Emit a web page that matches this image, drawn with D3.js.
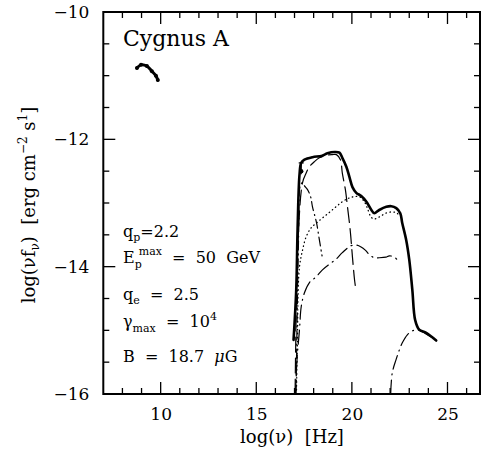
<!DOCTYPE html>
<html>
<head>
<meta charset="utf-8">
<script src="https://cdn.jsdelivr.net/npm/d3@7"></script>
<style>
  body { margin: 0; background: #fff; }
  text { font-family: "DejaVu Serif", "Liberation Serif", serif; fill: #000; white-space: pre; }
</style>
</head>
<body>
<svg id="chart" width="481" height="453"></svg>
<script>
// Axis ticks
const xTicksMajor = [10, 15, 20, 25];
const xTicksMinor = [8, 9, 11, 12, 13, 14, 16, 17, 18, 19, 21, 22, 23, 24, 26];
const yTicksMajor = [-10, -12, -14, -16];
const yTicksMinor = [-10.5, -11, -11.5, -12.5, -13, -13.5, -14.5, -15, -15.5];

// Radio observations [log nu, log nu f_nu]
const radioData = [[8.76, -10.88], [8.97, -10.83], [9.28, -10.85], [9.54, -10.93], [9.75, -11.0], [9.85, -11.07]];

// X-ray point with error bar [log nu, value, upper, lower]
const xrayPoint = [[17.35, -12.50, -12.37, -12.55]];

// Model components [log nu, log nu f_nu]
const totalSED = [[16.95, -15.15], [17.09, -14.36], [17.16, -13.42], [17.26, -12.56], [17.35, -12.37], [17.52, -12.32],
  [17.94, -12.28], [18.41, -12.26], [18.72, -12.22], [19.09, -12.2], [19.35, -12.21], [19.5, -12.29], [19.71, -12.43],
  [19.87, -12.59], [20.03, -12.75], [20.23, -12.84], [20.49, -12.89], [20.76, -12.98], [21.02, -13.11], [21.17, -13.16],
  [21.43, -13.11], [21.8, -13.06], [22.06, -13.05], [22.32, -13.08], [22.53, -13.16], [22.63, -13.31], [22.84, -13.58],
  [23.0, -13.89], [23.16, -14.36], [23.31, -14.84], [23.52, -14.99], [23.89, -15.04], [24.41, -15.16]];

const protonSyn = [[17.03, -16.0], [17.1, -14.52], [17.21, -13.42], [17.42, -12.68], [17.61, -12.53], [17.78, -12.43],
  [18.04, -12.35], [18.3, -12.29], [18.67, -12.25], [18.98, -12.24], [19.19, -12.24], [19.4, -12.32], [19.5, -12.53],
  [19.66, -12.79], [19.77, -13.06], [19.91, -13.42], [20.03, -13.85], [20.14, -14.21], [20.19, -14.32]];

const electronSyn = [[17.08, -16.0], [17.16, -14.36], [17.23, -13.27], [17.26, -12.79], [17.34, -12.7], [17.42, -12.68],
  [17.52, -12.73], [17.68, -12.79], [17.84, -12.9], [17.94, -13.06], [18.15, -13.31], [18.3, -13.58], [18.44, -13.83]];

const muonSyn = [[17.1, -16.0], [17.16, -14.99], [17.18, -14.52], [17.26, -14.0], [17.42, -13.74], [17.61, -13.53],
  [17.87, -13.39], [18.2, -13.3], [18.65, -13.19], [19.09, -13.08], [19.5, -12.98], [19.87, -12.92], [20.13, -12.9],
  [20.39, -12.9], [20.65, -12.98], [20.81, -13.08], [21.0, -13.22], [21.17, -13.25], [21.43, -13.22], [21.78, -13.16],
  [22.11, -13.14], [22.37, -13.16], [22.48, -13.22]];

const pionCascade = [[17.05, -16.0], [17.13, -15.46], [17.26, -14.99], [17.35, -14.63], [17.52, -14.41], [17.78, -14.25],
  [18.13, -14.16], [18.46, -14.05], [18.83, -13.96], [19.18, -13.88], [19.5, -13.78], [19.96, -13.67], [20.22, -13.66],
  [20.48, -13.69], [20.7, -13.74], [20.91, -13.81], [21.17, -13.86], [21.43, -13.86], [21.78, -13.85], [21.96, -13.83],
  [22.22, -13.85], [22.37, -13.89]];

const inverseCompton = [[22.03, -16.0], [22.11, -15.67], [22.31, -15.46], [22.48, -15.31], [22.63, -15.2], [22.9, -15.07],
  [23.16, -15.01], [23.42, -14.99], [23.79, -15.04], [24.41, -15.16]];

const svg = d3.select("#chart");
const plotLeft = 103.3, plotRight = 480, plotTop = 12, plotBottom = 394;

const x = d3.scaleLinear().domain([7, 26.7]).range([plotLeft, plotRight]);
const y = d3.scaleLinear().domain([-16, -10]).range([plotBottom, plotTop]);

// Frame
svg.append("rect").attr("x", plotLeft).attr("y", plotTop)
  .attr("width", plotRight - plotLeft).attr("height", plotBottom - plotTop)
  .attr("fill", "none").attr("stroke", "#000").attr("stroke-width", 2);

// Tick labels on bottom and left
function addLabels(axisFn, scale, pos, values) {
  const g = svg.append("g").attr("transform", pos)
    .call(axisFn(scale).tickValues(values).tickSize(0).tickPadding(14).tickFormat(d3.format("d")));
  g.select(".domain").remove();
  g.selectAll(".tick line").remove();
  g.selectAll(".tick text").attr("font-size", 17).attr("font-family", "DejaVu Serif");
}
addLabels(d3.axisBottom, x, `translate(0,${plotBottom})`, xTicksMajor);
addLabels(d3.axisLeft, y, `translate(${plotLeft},0)`, yTicksMajor);

// Model curves
const line = d3.line().x(d => x(d[0])).y(d => y(d[1])).curve(d3.curveCatmullRom.alpha(0.5));
const plot = svg.append("g");
function curve(data, width, dash) {
  plot.append("path").datum(data).attr("d", line).attr("fill", "none")
    .attr("stroke", "#000").attr("stroke-width", width)
    .attr("stroke-dasharray", dash).attr("stroke-linecap", "round").attr("stroke-linejoin", "round");
}
curve(muonSyn, 1.3, "0.5,3.5");
curve(pionCascade, 1.2, "14,5,1,5");
curve(inverseCompton, 1.2, "14,5,1,5");
curve(electronSyn, 1.2, "9,4,1,4");
curve(protonSyn, 1.2, "15,6");
curve(totalSED, 2.6, null);

// Radio data
plot.append("path").datum(radioData).attr("d", line).attr("fill", "none")
  .attr("stroke", "#000").attr("stroke-width", 3).attr("stroke-linecap", "round");
plot.selectAll(".radio").data(radioData).join("circle").attr("class", "radio")
  .attr("cx", d => x(d[0])).attr("cy", d => y(d[1])).attr("r", 2).attr("fill", "#000");

// X-ray point
const xr = plot.selectAll(".xray").data(xrayPoint).join("g").attr("class", "xray");
xr.append("line").attr("x1", d => x(d[0])).attr("x2", d => x(d[0]))
  .attr("y1", d => y(d[2])).attr("y2", d => y(d[3])).attr("stroke", "#000").attr("stroke-width", 1.2);
xr.append("line").attr("x1", d => x(d[0]) - 2.5).attr("x2", d => x(d[0]) + 2.5)
  .attr("y1", d => y(d[2])).attr("y2", d => y(d[2])).attr("stroke", "#000").attr("stroke-width", 1.2);
xr.append("circle").attr("cx", d => x(d[0])).attr("cy", d => y(d[1])).attr("r", 2.2).attr("fill", "#000");

// Inward tick marks on all four sides
const MAJ = 12, MIN = 6;
const ticks = svg.append("g").attr("stroke", "#000").attr("stroke-width", 1.3);
const xTickSet = xTicksMajor.map(v => [v, MAJ]).concat(xTicksMinor.map(v => [v, MIN]));
const yTickSet = yTicksMajor.map(v => [v, MAJ]).concat(yTicksMinor.map(v => [v, MIN]));
ticks.selectAll(".xb").data(xTickSet).join("line").attr("class", "xb")
  .attr("x1", d => x(d[0])).attr("x2", d => x(d[0]))
  .attr("y1", plotBottom).attr("y2", d => plotBottom - d[1]);
ticks.selectAll(".xt").data(xTickSet).join("line").attr("class", "xt")
  .attr("x1", d => x(d[0])).attr("x2", d => x(d[0]))
  .attr("y1", plotTop).attr("y2", d => plotTop + d[1]);
ticks.selectAll(".yl").data(yTickSet).join("line").attr("class", "yl")
  .attr("y1", d => y(d[0])).attr("y2", d => y(d[0]))
  .attr("x1", plotLeft).attr("x2", d => plotLeft + d[1]);
ticks.selectAll(".yr").data(yTickSet).join("line").attr("class", "yr")
  .attr("y1", d => y(d[0])).attr("y2", d => y(d[0]))
  .attr("x1", plotRight).attr("x2", d => plotRight - d[1]);

// Title
svg.append("text").attr("x", 123).attr("y", 46).attr("font-size", 22).text("Cygnus A");

// Axis titles
svg.append("text").attr("x", 292).attr("y", 443).attr("text-anchor", "middle").attr("font-size", 18)
  .text("log(ν)  [Hz]");
const yl = svg.append("text").attr("transform", "translate(35,205) rotate(-90)")
  .attr("text-anchor", "middle").attr("font-size", 18);
yl.append("tspan").text("log(νf");
yl.append("tspan").attr("font-size", 12).attr("dy", 4).text("ν");
yl.append("tspan").attr("dy", -4).text(")  [erg cm");
yl.append("tspan").attr("font-size", 12).attr("dy", -8).text("−2");
yl.append("tspan").attr("dy", 8).text(" s");
yl.append("tspan").attr("font-size", 12).attr("dy", -8).text("1");
yl.append("tspan").attr("dy", 8).text("]");

// Model parameters
const fs = 16, sfs = 11;
const t1 = svg.append("text").attr("x", 123).attr("y", 237).attr("font-size", fs);
t1.append("tspan").text("q");
t1.append("tspan").attr("font-size", sfs).attr("dy", 4).text("p");
t1.append("tspan").attr("dy", -4).text("=2.2");

const t2 = svg.append("text").attr("x", 123).attr("y", 263).attr("font-size", fs);
t2.append("tspan").text("E");
t2.append("tspan").attr("font-size", sfs).attr("dy", 5).text("p");
t2.append("tspan").attr("font-size", sfs).attr("dx", -3).attr("dy", -13).text("max");
t2.append("tspan").attr("dy", 8).text("  =  50  GeV");

const t3 = svg.append("text").attr("x", 123).attr("y", 300).attr("font-size", fs);
t3.append("tspan").text("q");
t3.append("tspan").attr("font-size", sfs).attr("dy", 4).text("e");
t3.append("tspan").attr("dy", -4).text("  =  2.5");

const t4 = svg.append("text").attr("x", 123).attr("y", 327).attr("font-size", fs);
t4.append("tspan").text("γ");
t4.append("tspan").attr("font-size", sfs).attr("dy", 5).text("max");
t4.append("tspan").attr("dy", -5).text("  =  10");
t4.append("tspan").attr("font-size", sfs).attr("dy", -7).text("4");

const t5 = svg.append("text").attr("x", 123).attr("y", 362).attr("font-size", fs);
t5.append("tspan").text("B  =  18.7  ");
t5.append("tspan").attr("font-style", "italic").text("μ");
t5.append("tspan").text("G");
</script>
</body>
</html>
